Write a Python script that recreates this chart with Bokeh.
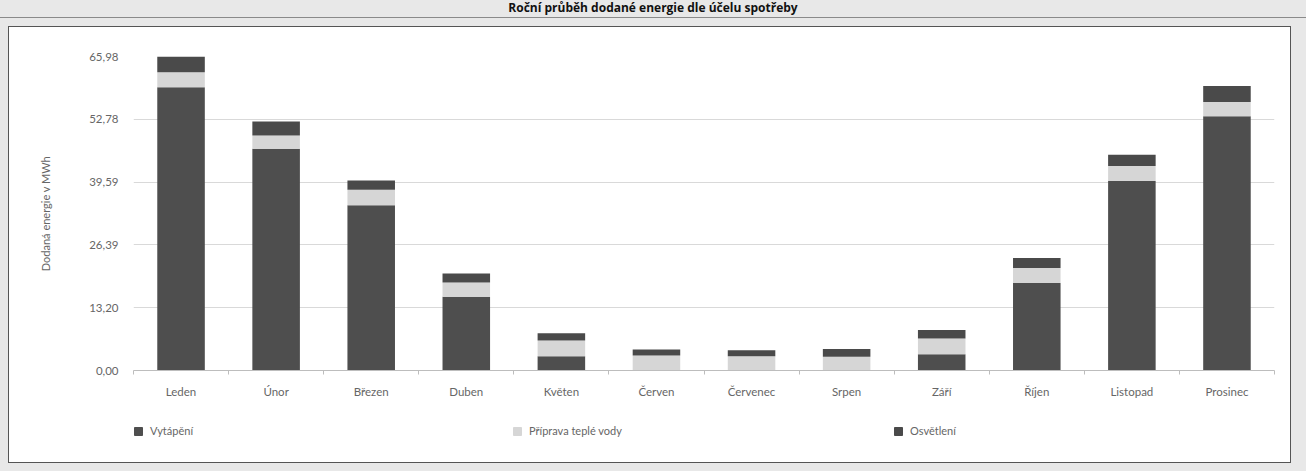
from bokeh.plotting import figure
from bokeh.models import ColumnDataSource, FixedTicker, Legend, LegendItem, Div
from bokeh.layouts import column
from bokeh.embed import file_html
from bokeh.resources import INLINE
import numpy as np

months = ["Leden", "Únor", "Březen", "Duben", "Květen", "Červen",
          "Červenec", "Srpen", "Září", "Říjen", "Listopad", "Prosinec"]
heating = [59.5, 46.6, 34.7, 15.5, 3.0, 0.0, 0.0, 0.0, 3.4, 18.4, 39.8, 53.4]
hot_water = [3.15, 2.8, 3.3, 3.0, 3.3, 3.15, 3.0, 2.9, 3.3, 3.15, 3.15, 3.0]
lighting = [3.33, 2.9, 1.9, 1.9, 1.55, 1.26, 1.26, 1.6, 1.8, 2.1, 2.4, 3.4]
y_ticks = [0.0, 13.196, 26.392, 39.588, 52.784, 65.98]
y_tick_labels = ["0,00", "13,20", "26,39", "39,59", "52,78", "65,98"]
series_names = ["Vytápění", "Příprava teplé vody", "Osvětlení"]
series_colors = ["#4e4e4e", "#d6d6d6", "#4a4a4a"]
series_fields = ["heating", "hot_water", "lighting"]

FONT = "Lato"
TEXT_COLOR = "#666666"
x = np.arange(len(months)) + 0.5

src = ColumnDataSource(dict(x=x, heating=heating, hot_water=hot_water, lighting=lighting))

# ---- main bar chart ----
p = figure(width=1281, height=378, x_range=(0, len(months)), y_range=(0, 65.98),
           output_backend="svg", toolbar_location=None,
           min_border_left=124, min_border_right=16, min_border_top=29, min_border_bottom=35)
p.margin = 0
p.background_fill_color = "white"
p.border_fill_color = "white"
p.outline_line_color = None

p.vbar_stack(series_fields, x="x", width=0.5, source=src,
             color=series_colors, line_color=None)

# y axis
p.yaxis.ticker = FixedTicker(ticks=y_ticks)
p.yaxis.major_label_overrides = {t: l for t, l in zip(y_ticks, y_tick_labels)}
p.yaxis.axis_line_color = None
p.yaxis.major_tick_line_color = None
p.yaxis.minor_tick_line_color = None
p.yaxis.major_label_standoff = 9
p.yaxis.major_label_text_font = FONT
p.yaxis.major_label_text_font_size = "11.5px"
p.yaxis.major_label_text_color = TEXT_COLOR
p.yaxis.axis_label = "Dodaná energie v MWh"
p.yaxis.axis_label_text_font = FONT
p.yaxis.axis_label_text_font_size = "11px"
p.yaxis.axis_label_text_font_style = "normal"
p.yaxis.axis_label_text_color = TEXT_COLOR
p.yaxis.axis_label_standoff = 34

# x axis: labels at centres, ticks at category boundaries
p.xaxis.ticker = FixedTicker(ticks=list(x), minor_ticks=list(range(len(months) + 1)))
p.xaxis.major_label_overrides = {float(c): m for c, m in zip(x, months)}
p.xaxis.axis_line_color = "#bdbdbd"
p.xaxis.major_tick_line_color = None
p.xaxis.minor_tick_line_color = "#bdbdbd"
p.xaxis.minor_tick_out = 4
p.xaxis.minor_tick_in = 0
p.xaxis.major_label_standoff = 8
p.xaxis.major_label_text_font = FONT
p.xaxis.major_label_text_font_size = "11.5px"
p.xaxis.major_label_text_color = TEXT_COLOR

p.xgrid.grid_line_color = None
p.ygrid.ticker = FixedTicker(ticks=y_ticks)
p.ygrid.grid_line_color = "#d9d9d9"

# ---- legend strip below the chart: one legend per series, spread across the width ----
# (its frame is aligned with the chart frame above, so offsets are from the chart's left edge)
lg = figure(width=1281, height=57, x_range=(0, 1), y_range=(0, 1),
            output_backend="svg", toolbar_location=None,
            min_border_left=0, min_border_right=0, min_border_top=0, min_border_bottom=0)
lg.margin = 0
lg.axis.visible = False
lg.grid.visible = False
lg.outline_line_color = None
lg.background_fill_color = "white"
lg.border_fill_color = "white"
# swatch renderers sit outside the visible range; only their legend entries show
swatches = [lg.vbar(x=[-5], top=[-5], width=0.1, color=c) for c in series_colors]
legend_x = [0, 379, 760]
for name, r, lx in zip(series_names, swatches, legend_x):
    lg.add_layout(Legend(items=[LegendItem(label=name, renderers=[r])],
                         location=(lx, 25), orientation="horizontal",
                         glyph_width=10, glyph_height=10, label_standoff=7,
                         label_height=12, padding=0, margin=0,
                         label_text_font=FONT, label_text_font_size="11px",
                         label_text_color=TEXT_COLOR,
                         border_line_color=None, background_fill_alpha=0), "center")

chart_box = column(p, lg, width=1281, height=435, spacing=0,
                   styles={"outline": "1px solid #555555", "background-color": "white"})
chart_box.margin = (0, 0, 0, 9)

header = Div(width=1306, height=27, margin=0, text=(
    '<div style="width:1306px;height:27px;overflow:hidden;position:relative;">'
    '<div style="position:absolute;top:0px;left:0;width:1306px;text-align:center;'
    'font:bold 12px \'Open Sans\';line-height:15px;color:#111;">'
    'Roční průběh dodané energie dle účelu spotřeby</div>'
    '<div style="position:absolute;top:17px;left:0;width:1306px;border-top:1px solid #8a8a8a;"></div>'
    '</div>'))

page = column(header, chart_box, width=1306, height=471, spacing=0,
              styles={"background-color": "#e8e8e8"})

open("out.html", "w").write(file_html(page, INLINE))
